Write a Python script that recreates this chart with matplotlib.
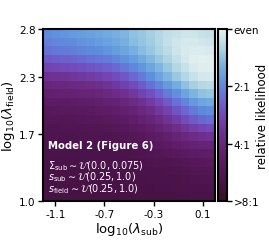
import numpy as np
import matplotlib
matplotlib.use("Agg")
import matplotlib.pyplot as plt
from matplotlib.colors import LinearSegmentedColormap

plt.rcParams['mathtext.fontset'] = 'dejavusans'

# log2 of relative likelihood (0 = even, -3 = >8:1); rows from top (high lambda_field) to bottom
likelihood_rows = [
    [-0.95,-0.92,-0.88,-0.85,-0.80,-0.78,-0.75,-0.70,-0.65,-0.60,-0.50,-0.45,-0.38,-0.30,-0.22,-0.18,-0.15,-0.15,-0.18,-0.20],
    [-1.05,-1.00,-0.98,-0.95,-0.90,-0.87,-0.83,-0.78,-0.72,-0.65,-0.55,-0.48,-0.40,-0.30,-0.20,-0.14,-0.10,-0.10,-0.12,-0.15],
    [-1.15,-1.12,-1.10,-1.07,-1.02,-0.98,-0.95,-0.90,-0.82,-0.75,-0.65,-0.55,-0.45,-0.35,-0.25,-0.15,-0.08,-0.06,-0.06,-0.08],
    [-1.35,-1.32,-1.30,-1.27,-1.22,-1.18,-1.13,-1.08,-1.00,-0.92,-0.82,-0.70,-0.58,-0.45,-0.33,-0.20,-0.10,-0.03,-0.02,-0.03],
    [-1.55,-1.52,-1.50,-1.47,-1.43,-1.40,-1.35,-1.30,-1.22,-1.12,-1.00,-0.88,-0.75,-0.60,-0.45,-0.30,-0.18,-0.08,-0.04,-0.04],
    [-1.80,-1.78,-1.76,-1.72,-1.68,-1.64,-1.60,-1.54,-1.46,-1.36,-1.24,-1.10,-0.94,-0.77,-0.60,-0.44,-0.30,-0.18,-0.11,-0.10],
    [-2.00,-1.98,-1.96,-1.93,-1.90,-1.86,-1.82,-1.76,-1.69,-1.60,-1.48,-1.34,-1.18,-1.01,-0.84,-0.67,-0.51,-0.38,-0.29,-0.26],
    [-2.15,-2.14,-2.12,-2.10,-2.07,-2.04,-2.00,-1.95,-1.88,-1.80,-1.70,-1.58,-1.43,-1.27,-1.10,-0.93,-0.76,-0.61,-0.50,-0.46],
    [-2.28,-2.27,-2.26,-2.24,-2.22,-2.20,-2.17,-2.12,-2.06,-1.99,-1.90,-1.79,-1.66,-1.51,-1.35,-1.18,-1.01,-0.86,-0.75,-0.70],
    [-2.38,-2.37,-2.36,-2.35,-2.33,-2.31,-2.28,-2.25,-2.20,-2.14,-2.06,-1.96,-1.84,-1.71,-1.56,-1.40,-1.24,-1.10,-0.99,-0.94],
    [-2.46,-2.45,-2.45,-2.44,-2.42,-2.41,-2.39,-2.36,-2.32,-2.27,-2.20,-2.12,-2.02,-1.90,-1.76,-1.62,-1.47,-1.34,-1.24,-1.19],
    [-2.52,-2.52,-2.51,-2.51,-2.50,-2.49,-2.47,-2.45,-2.42,-2.38,-2.33,-2.26,-2.18,-2.08,-1.96,-1.84,-1.72,-1.61,-1.53,-1.48],
    [-2.57,-2.57,-2.56,-2.56,-2.55,-2.55,-2.54,-2.52,-2.50,-2.47,-2.43,-2.38,-2.32,-2.24,-2.15,-2.05,-1.96,-1.88,-1.82,-1.78],
    [-2.60,-2.60,-2.60,-2.59,-2.59,-2.58,-2.58,-2.57,-2.55,-2.53,-2.50,-2.47,-2.42,-2.36,-2.29,-2.22,-2.15,-2.09,-2.05,-2.03],
    [-2.62,-2.62,-2.62,-2.62,-2.61,-2.61,-2.61,-2.60,-2.59,-2.58,-2.56,-2.54,-2.51,-2.47,-2.42,-2.37,-2.32,-2.27,-2.24,-2.22],
    [-2.64,-2.64,-2.64,-2.64,-2.63,-2.63,-2.63,-2.62,-2.62,-2.61,-2.60,-2.59,-2.57,-2.55,-2.53,-2.50,-2.46,-2.42,-2.38,-2.36],
    [-2.65,-2.65,-2.65,-2.65,-2.65,-2.64,-2.64,-2.64,-2.63,-2.63,-2.62,-2.62,-2.61,-2.59,-2.58,-2.56,-2.53,-2.50,-2.47,-2.45],
    [-2.66,-2.66,-2.66,-2.66,-2.66,-2.65,-2.65,-2.65,-2.65,-2.64,-2.64,-2.64,-2.63,-2.62,-2.61,-2.60,-2.58,-2.56,-2.54,-2.52],
    [-2.67,-2.67,-2.67,-2.67,-2.67,-2.66,-2.66,-2.66,-2.66,-2.66,-2.65,-2.65,-2.65,-2.64,-2.64,-2.63,-2.62,-2.61,-2.59,-2.58],
    [-2.68,-2.68,-2.68,-2.68,-2.68,-2.67,-2.67,-2.67,-2.67,-2.67,-2.67,-2.66,-2.66,-2.66,-2.65,-2.65,-2.64,-2.63,-2.62,-2.61],
]
sub_range = [-1.2, 0.2]
field_range = [1.0, 2.8]
x_ticks = [-1.1, -0.7, -0.3, 0.1]
x_labels = ["-1.1", "-0.7", "-0.3", "0.1"]
y_ticks = [1.0, 1.7, 2.3, 2.8]
y_labels = ["1.0", "1.7", "2.3", "2.8"]
cbar_ticks = [-3, -2, -1, 0]
cbar_labels = [">8:1", "4:1", "2:1", "even"]
prior_lines = [r'$\Sigma_{\rm sub} \sim \mathcal{U}(0.0, 0.075)$',
               r'$s_{\rm sub} \sim \mathcal{U}(0.25, 1.0)$',
               r'$s_{\rm field} \sim \mathcal{U}(0.25, 1.0)$']

data = np.array(likelihood_rows)

# dense-like colormap (dark purple -> purple -> blue -> near white)
cmap = LinearSegmentedColormap.from_list('dense_r', [
    (0.00, '#360e24'),
    (0.12, '#4a1349'),
    (0.25, '#5e1c66'),
    (0.38, '#6e2c88'),
    (0.50, '#7448b8'),
    (0.60, '#6a6cd6'),
    (0.68, '#5e8ddc'),
    (0.78, '#74aee0'),
    (0.88, '#a8d2e2'),
    (1.00, '#e6f1f1'),
])

fig = plt.figure(figsize=(2.69, 2.51), dpi=100)
ax = fig.add_axes([0.160, 0.195, 0.639, 0.685])
cax = fig.add_axes([0.811, 0.195, 0.034, 0.685])

im = ax.imshow(data, cmap=cmap, vmin=-3, vmax=0, origin='upper', aspect='auto',
               extent=[sub_range[0], sub_range[1], field_range[0], field_range[1]],
               interpolation='nearest')
ax.set_xlim(sub_range)
ax.set_ylim(field_range)
ax.set_xticks(x_ticks)
ax.set_xticklabels(x_labels)
ax.set_yticks(y_ticks)
ax.set_yticklabels(y_labels)
ax.tick_params(labelsize=7.5, length=3.5, width=1, pad=2)
for s in ax.spines.values():
    s.set_linewidth(1.5)
ax.set_xlabel(r'log$_{10}$($\lambda_{\rm sub}$)', fontsize=9.5, labelpad=1)
ax.set_ylabel(r'log$_{10}$($\lambda_{\rm field}$)', fontsize=9.5, labelpad=1)

ax.text(0.03, 0.325, 'Model 2 (Figure 6)', transform=ax.transAxes, color='white',
        fontsize=7.3, fontweight='bold', va='center', ha='left')
ax.text(0.03, 0.143, '\n'.join(prior_lines), transform=ax.transAxes,
        color='white', fontsize=7.0, va='center', ha='left', linespacing=0.8)

cb = fig.colorbar(im, cax=cax, ticks=cbar_ticks)
cb.set_ticklabels(cbar_labels)
cb.outline.set_linewidth(1.5)
cax.tick_params(labelsize=7.5, length=3.5, width=1, pad=1)
cb.set_label('relative likelihood', fontsize=8.5, labelpad=-2)

fig.savefig('out.png', dpi=100)
